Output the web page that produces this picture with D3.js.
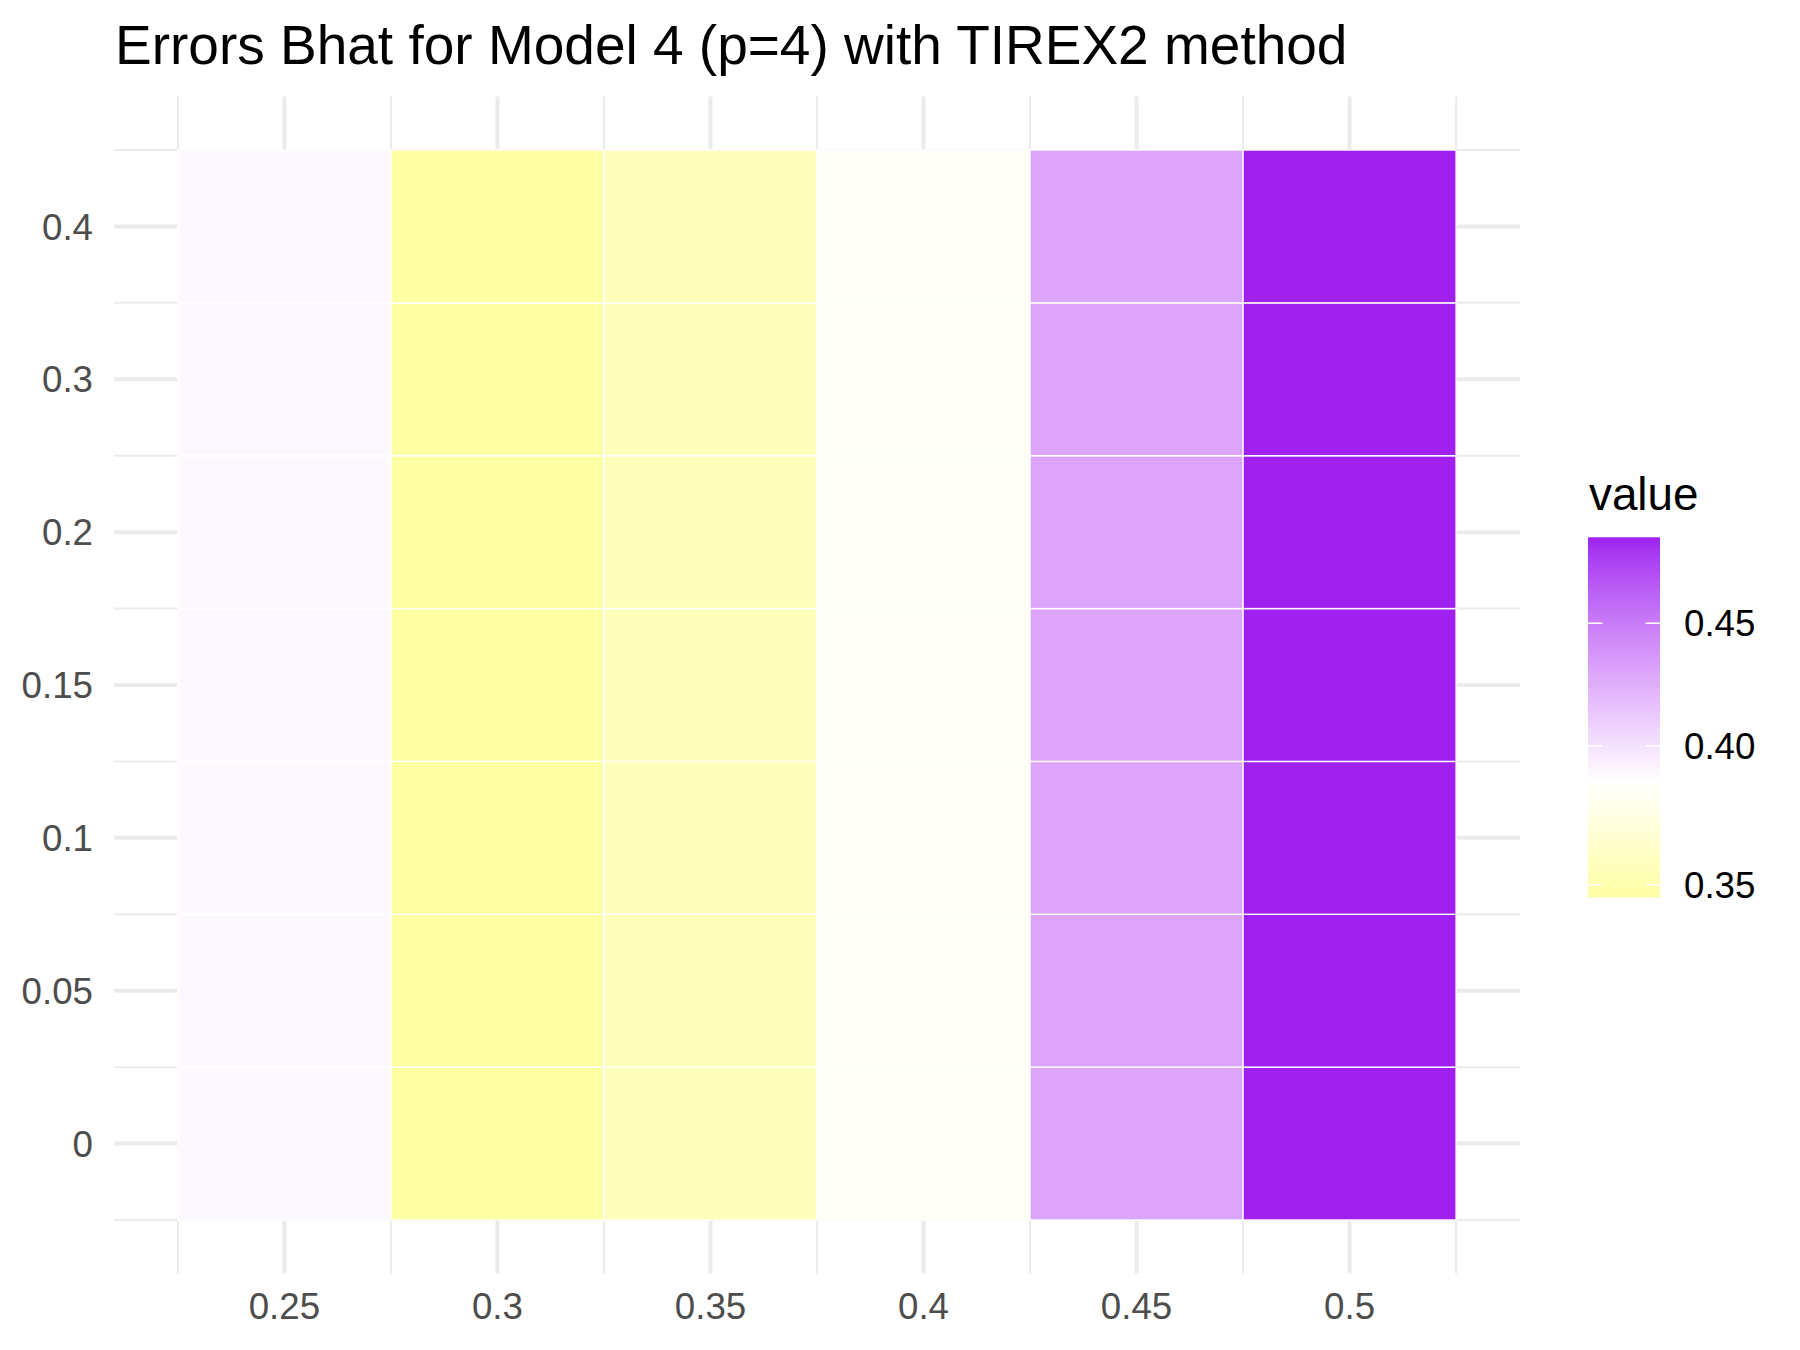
<!DOCTYPE html>
<html>
<head>
<meta charset="utf-8">
<script src="https://cdn.jsdelivr.net/npm/d3@7"></script>
<style>
  body { margin: 0; background: #fff; }
  text { font-family: "Liberation Sans", Arial, sans-serif; }
</style>
</head>
<body>
<div id="chart"></div>
<script>
// x = column values, y = row labels (shown as evenly spaced rows)
const xValues = [0.25, 0.3, 0.35, 0.4, 0.45, 0.5];
const yLabels = ['0', '0.05', '0.1', '0.15', '0.2', '0.3', '0.4'];
// errors[row][col], row 0 is the bottom row (y = 0)
const errors = [
  [0.3900, 0.3458, 0.3564, 0.3835, 0.4290, 0.4887],
  [0.3900, 0.3458, 0.3564, 0.3835, 0.4290, 0.4887],
  [0.3900, 0.3458, 0.3564, 0.3835, 0.4290, 0.4887],
  [0.3900, 0.3458, 0.3564, 0.3835, 0.4290, 0.4887],
  [0.3900, 0.3458, 0.3564, 0.3835, 0.4290, 0.4887],
  [0.3900, 0.3458, 0.3564, 0.3835, 0.4290, 0.4887],
  [0.3900, 0.3458, 0.3564, 0.3835, 0.4290, 0.4887]
];
const legendTicks = [0.35, 0.40, 0.45];
const title = 'Errors Bhat for Model 4 (p=4) with TIREX2 method';

const width = 1800, height = 1350;
const panel = { left: 114, right: 1520, top: 96.5, bottom: 1273.5 };

const svg = d3.select('#chart').append('svg')
  .attr('width', width)
  .attr('height', height);

svg.append('rect').attr('width', width).attr('height', height).attr('fill', '#fff');

// tile data
const tiles = [];
errors.forEach((row, i) => {
  row.forEach((v, j) => {
    tiles.push({ x: xValues[j], y: i + 1, value: v });
  });
});

const step = 0.05;
const xMin = d3.min(xValues) - step / 2, xMax = d3.max(xValues) + step / 2;
const xPad = (xMax - xMin) * 0.05;
const x = d3.scaleLinear()
  .domain([xMin - xPad, xMax + xPad])
  .range([panel.left, panel.right]);

const yMin = 0.5, yMax = yLabels.length + 0.5;
const yPad = (yMax - yMin) * 0.05;
const y = d3.scaleLinear()
  .domain([yMin - yPad, yMax + yPad])
  .range([panel.bottom, panel.top]);

// fill scale: log transform, yellow - white - purple around the median
const allVals = tiles.map(d => d.value);
const vMin = d3.min(allVals), vMax = d3.max(allVals);
const mid = Math.log(d3.median(allVals));
const maxDist = Math.max(Math.log(vMax) - mid, mid - Math.log(vMin));
const lowPart = d3.interpolateLab('#FFFF00', '#FFFFFF');
const highPart = d3.interpolateLab('#FFFFFF', '#A020F0');
function fillColor(v) {
  const t = 0.5 + (Math.log(v) - mid) / (2 * maxDist);
  return t < 0.5 ? lowPart(t * 2) : highPart((t - 0.5) * 2);
}

// grid
const grid = svg.append('g');
const xMinor = d3.range(xValues.length + 1).map(i => xMin + i * step);
const yMinor = d3.range(yLabels.length + 1).map(i => yMin + i);

grid.selectAll('.xminor').data(xMinor).join('line')
  .attr('x1', d => x(d)).attr('x2', d => x(d))
  .attr('y1', panel.top).attr('y2', panel.bottom)
  .attr('stroke', '#EBEBEB').attr('stroke-width', 2);
grid.selectAll('.yminor').data(yMinor).join('line')
  .attr('y1', d => y(d)).attr('y2', d => y(d))
  .attr('x1', panel.left).attr('x2', panel.right)
  .attr('stroke', '#EBEBEB').attr('stroke-width', 2);
grid.selectAll('.xmajor').data(xValues).join('line')
  .attr('x1', d => x(d)).attr('x2', d => x(d))
  .attr('y1', panel.top).attr('y2', panel.bottom)
  .attr('stroke', '#EBEBEB').attr('stroke-width', 4);
grid.selectAll('.ymajor').data(yLabels).join('line')
  .attr('y1', (d, i) => y(i + 1)).attr('y2', (d, i) => y(i + 1))
  .attr('x1', panel.left).attr('x2', panel.right)
  .attr('stroke', '#EBEBEB').attr('stroke-width', 4);

// tiles
svg.append('g').selectAll('rect').data(tiles).join('rect')
  .attr('x', d => x(d.x - step / 2))
  .attr('y', d => y(d.y + 0.5))
  .attr('width', d => x(d.x + step / 2) - x(d.x - step / 2))
  .attr('height', d => y(d.y - 0.5) - y(d.y + 0.5))
  .attr('fill', d => fillColor(d.value))
  .attr('stroke', '#fff')
  .attr('stroke-width', 1.4);

// axis labels
svg.append('g').selectAll('text').data(xValues).join('text')
  .attr('x', d => x(d))
  .attr('y', 1319)
  .attr('text-anchor', 'middle')
  .attr('font-size', 36.7)
  .attr('fill', '#4D4D4D')
  .text(d => d3.format('~g')(d));

svg.append('g').selectAll('text').data(yLabels).join('text')
  .attr('x', 93)
  .attr('y', (d, i) => y(i + 1))
  .attr('dy', '0.36em')
  .attr('text-anchor', 'end')
  .attr('font-size', 36.7)
  .attr('fill', '#4D4D4D')
  .text(d => d);

// title
svg.append('text')
  .attr('x', 115)
  .attr('y', 64)
  .attr('font-size', 55)
  .attr('fill', '#000')
  .text(title);

// legend
const bar = { x: 1588, y: 537.3, w: 72, h: 360 };
const lg = d3.scaleLinear()
  .domain([Math.log(vMin), Math.log(vMax)])
  .range([bar.y + bar.h, bar.y]);

const grad = svg.append('defs').append('linearGradient')
  .attr('id', 'valgrad')
  .attr('x1', 0).attr('y1', 1).attr('x2', 0).attr('y2', 0);
d3.range(0, 301).forEach(i => {
  const lv = Math.log(vMin) + (Math.log(vMax) - Math.log(vMin)) * i / 300;
  grad.append('stop')
    .attr('offset', i / 300)
    .attr('stop-color', fillColor(Math.exp(lv)));
});

svg.append('text')
  .attr('x', 1589)
  .attr('y', 510)
  .attr('font-size', 45.8)
  .attr('fill', '#000')
  .text('value');

svg.append('rect')
  .attr('x', bar.x).attr('y', bar.y)
  .attr('width', bar.w).attr('height', bar.h)
  .attr('fill', 'url(#valgrad)');

const tickLen = bar.w * 0.2;
legendTicks.forEach(t => {
  const ty = lg(Math.log(t));
  svg.append('line')
    .attr('x1', bar.x).attr('x2', bar.x + tickLen)
    .attr('y1', ty).attr('y2', ty)
    .attr('stroke', '#fff').attr('stroke-width', 1.5);
  svg.append('line')
    .attr('x1', bar.x + bar.w - tickLen).attr('x2', bar.x + bar.w)
    .attr('y1', ty).attr('y2', ty)
    .attr('stroke', '#fff').attr('stroke-width', 1.5);
  svg.append('text')
    .attr('x', 1684)
    .attr('y', ty)
    .attr('dy', '0.36em')
    .attr('font-size', 36.7)
    .attr('fill', '#000')
    .text(d3.format('.2f')(t));
});
</script>
</body>
</html>
